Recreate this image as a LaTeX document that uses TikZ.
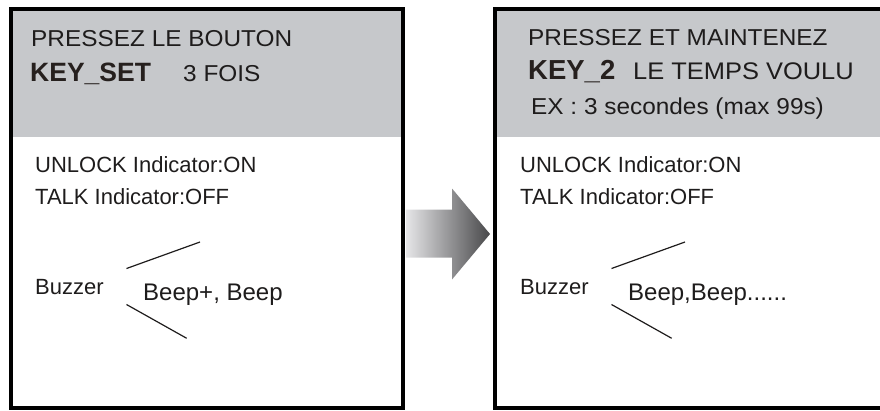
\documentclass[tikz,border=0pt]{standalone}
\usepackage{fontspec}
\setmainfont{Liberation Sans}
\newfontfamily\hdfont[FakeStretch=1.06]{Liberation Sans}
\definecolor{hdgray}{RGB}{198,200,203}
\definecolor{ink}{RGB}{30,28,28}
\definecolor{keyink}{RGB}{38,32,30}
\definecolor{arrowlight}{RGB}{230,230,232}
\definecolor{arrowdark}{RGB}{72,72,74}
\begin{document}
\begin{tikzpicture}[x=1pt,y=-1pt,
  panel/.style={draw=black,line width=3.6pt},
  header/.style={fill=hdgray},
  txt/.style={anchor=base west,inner sep=0pt,text=ink},
  hdtxt/.style={txt,font=\hdfont\fontsize{23}{23}\selectfont},
  keytxt/.style={anchor=base west,inner sep=0pt,text=keyink,font=\bfseries\fontsize{26.5}{26.5}\selectfont},
  bodytxt/.style={txt,font=\fontsize{22}{22}\selectfont},
  beeptxt/.style={txt,font=\fontsize{24}{24}\selectfont},
  wave/.style={draw=ink,line width=1.2pt}]
\useasboundingbox (0,0) rectangle (880,410);
\clip (0,0) rectangle (880,410);
% panels
\fill[header] (11,9) rectangle (403,137);
\draw[panel] (11,9) rectangle (403,408);
\fill[header] (495,9) rectangle (895,137);
\draw[panel] (495,9) rectangle (895,408);
% arrow between panels
\shade[left color=arrowlight,right color=arrowdark]
  (405.8,209.5) -- (452,209.5) -- (452,188.5) -- (490,234) -- (452,279.5) -- (452,257.5) -- (405.8,257.5) -- cycle;
% left panel texts
\node[hdtxt] (l1) at (31,46) {PRESSEZ LE BOUTON};
\node[keytxt] (lk) at (30,81.5) {KEY\_SET};
\node[hdtxt] (l2) at (183,81.5) {3 FOIS};
\node[bodytxt] (lu) at (35,172.5) {UNLOCK Indicator:ON};
\node[bodytxt] (lt) at (35,204) {TALK Indicator:OFF};
\node[bodytxt] (lb) at (35,294.5) {Buzzer};
\node[beeptxt] (lbeep) at (143,300) {Beep+, Beep};
\coordinate (lw1a) at (126.5,268.5);
\coordinate (lw1b) at (200,242);
\coordinate (lw2a) at (126.5,304.5);
\coordinate (lw2b) at (186.7,338.3);
\draw[wave] (lw1a) -- (lw1b);
\draw[wave] (lw2a) -- (lw2b);
% right panel texts
\node[hdtxt] (r1) at (528,45) {PRESSEZ ET MAINTENEZ};
\node[keytxt,font=\bfseries\fontsize{27.5}{27.5}\selectfont] (rk) at (528,79) {KEY\_2};
\node[hdtxt,font=\hdfont\fontsize{24}{24}\selectfont] (r2) at (633,79) {LE TEMPS VOULU};
\node[hdtxt] (r3) at (531,114) {EX : 3 secondes (max 99s)};
\node[bodytxt] (ru) at (520,172.5) {UNLOCK Indicator:ON};
\node[bodytxt] (rt) at (520,204) {TALK Indicator:OFF};
\node[bodytxt] (rb) at (520,294.5) {Buzzer};
\node[beeptxt] (rbeep) at (628,300) {Beep,Beep......};
\coordinate (rw1a) at (611.5,268.5);
\coordinate (rw1b) at (685,242);
\coordinate (rw2a) at (611.5,304.5);
\coordinate (rw2b) at (671.7,338.3);
\draw[wave] (rw1a) -- (rw1b);
\draw[wave] (rw2a) -- (rw2b);
\end{tikzpicture}
\end{document}
